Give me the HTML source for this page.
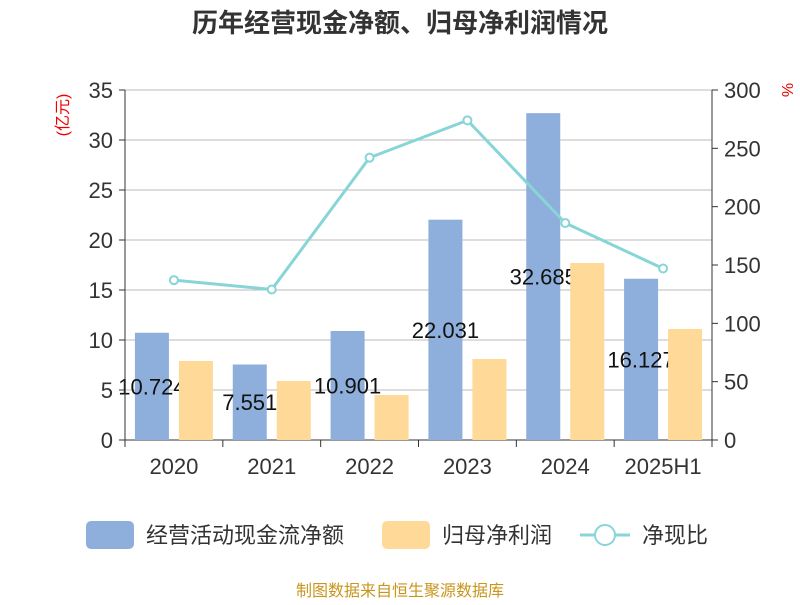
<!DOCTYPE html>
<html><head><meta charset="utf-8"><style>
body{margin:0;background:#fff;font-family:"Liberation Sans","Noto Sans CJK SC",sans-serif;}
</style></head><body>
<svg id="c" width="800" height="600" xmlns="http://www.w3.org/2000/svg" font-family="Liberation Sans, Noto Sans CJK SC, sans-serif">
<text x="400" y="32" text-anchor="middle" font-size="26" font-weight="bold" fill="#333">历年经营现金净额、归母净利润情况</text>
<text transform="translate(68,115) rotate(-90)" text-anchor="middle" font-size="16" fill="#e00">(亿元)</text>
<text transform="translate(782,90) rotate(90)" text-anchor="middle" font-size="16" fill="#e00">%</text>
<g id="grid"></g><g id="bars"></g><g id="labels"></g><g id="bars2"></g><g id="axes"></g><g id="line"></g>
<g>
<rect x="86" y="521" width="48" height="28" rx="5" fill="#8eaedb"/>
<text x="146" y="543" font-size="22" fill="#333">经营活动现金流净额</text>
<rect x="382" y="521" width="48" height="28" rx="5" fill="#fed998"/>
<text x="442" y="543" font-size="22" fill="#333">归母净利润</text>
<line x1="580" y1="535" x2="630" y2="535" stroke="#88d5d8" stroke-width="3"/>
<circle cx="605" cy="535" r="10" fill="#fff" stroke="#88d5d8" stroke-width="2"/>
<text x="642" y="543" font-size="22" fill="#333">净现比</text>
</g>
<text x="400" y="596" text-anchor="middle" font-size="16" fill="#c8961e">制图数据来自恒生聚源数据库</text>
</svg>
<script>
const categories=["2020","2021","2022","2023","2024","2025H1"];
const cashFlow=[10.724,7.551,10.901,22.031,32.685,16.127];
const netProfit=[7.9,5.9,4.5,8.1,17.7,11.1];
const ratio=[137,129,242,274,186,147];
const leftTicks=[0,5,10,15,20,25,30,35];
const rightTicks=[0,50,100,150,200,250,300];
const NS="http://www.w3.org/2000/svg";
const X0=125,X1=712,Y0=440,Y1=90;
const bw=(X1-X0)/categories.length;
const yL=v=>Y0-(v/35)*(Y0-Y1);
const yR=v=>Y0-(v/300)*(Y0-Y1);
const xc=i=>X0+bw*(i+0.5);
function mk(tag,attrs,parent,text){const e=document.createElementNS(NS,tag);for(const k in attrs)e.setAttribute(k,attrs[k]);if(text!==undefined)e.textContent=text;document.getElementById(parent).appendChild(e);return e;}
leftTicks.forEach(t=>{
 const g=mk("line",{x1:X0,x2:X1,y1:yL(t),y2:yL(t),stroke:t===0?"#333":"#bbb","stroke-width":1},"grid");
 
 
 const tx=mk("text",{x:X0-12,y:yL(t)+8,"text-anchor":"end","font-size":22,fill:"#333"},"axes",String(t));
 
 
 mk("line",{x1:X0-6,x2:X0,y1:yL(t),y2:yL(t),stroke:"#333"},"axes");
});
rightTicks.forEach(t=>{
 const tx=mk("text",{x:X1+12,y:yR(t)+8,"font-size":22,fill:"#333"},"axes",String(t));
 
 
 mk("line",{x1:X1,x2:X1+6,y1:yR(t),y2:yR(t),stroke:"#333"},"axes");
});
mk("line",{x1:X0,x2:X0,y1:Y1,y2:Y0,stroke:"#333"},"axes");
mk("line",{x1:X1,x2:X1,y1:Y1,y2:Y0,stroke:"#333"},"axes");
for(let i=0;i<=categories.length;i++)mk("line",{x1:X0+bw*i,x2:X0+bw*i,y1:Y0,y2:Y0+7,stroke:"#333"},"axes");
categories.forEach((c,i)=>{
 const tx=mk("text",{x:xc(i),y:Y0+34,"text-anchor":"middle","font-size":22,fill:"#333"},"axes",c);
 
 
 const b=mk("rect",{x:xc(i)-39,y:yL(cashFlow[i]),width:34,height:Y0-yL(cashFlow[i]),fill:"#8eaedb"},"bars");
 
 
 const l=mk("text",{x:xc(i)-22,y:(yL(cashFlow[i])+Y0)/2+8,"text-anchor":"middle","font-size":22,fill:"#111"},"labels",cashFlow[i].toFixed(3).replace(/0+$/,''));
 
 
 const b2=mk("rect",{x:xc(i)+5,y:yL(netProfit[i]),width:34,height:Y0-yL(netProfit[i]),fill:"#fed998"},"bars2");
 
 
});
const pl=mk("polyline",{points:ratio.map((v,i)=>xc(i)+","+yR(v)).join(" "),fill:"none",stroke:"#88d5d8","stroke-width":3},"line");


ratio.forEach((v,i)=>{
 const p=mk("circle",{cx:xc(i),cy:yR(v),r:4,fill:"#fff",stroke:"#88d5d8","stroke-width":2},"line");
 
 
});
</script>
</body></html>
